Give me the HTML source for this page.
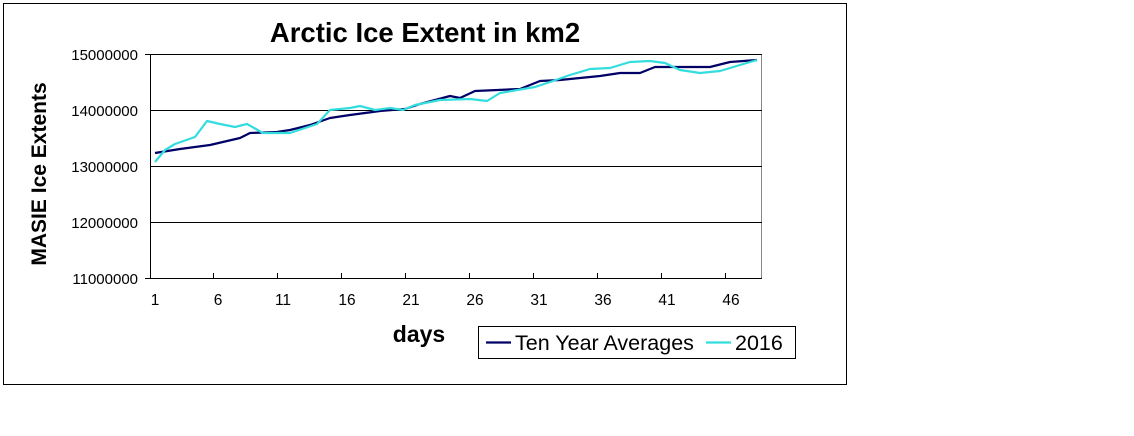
<!DOCTYPE html>
<html><head><meta charset="utf-8"><style>
body{margin:0;background:#fff;}
svg{display:block;font-family:"Liberation Sans",Arial,sans-serif;}
</style></head><body>
<svg width="1134" height="436" viewBox="0 0 1134 436" xmlns="http://www.w3.org/2000/svg">
<rect x="0" y="0" width="1134" height="436" fill="#fff"/>
<rect x="3.5" y="3.5" width="843" height="381" fill="none" stroke="#000" stroke-width="1"/>
<text x="425" y="42" font-size="27.5" font-weight="bold" text-anchor="middle">Arctic Ice Extent in km2</text>
<rect x="150.5" y="54.5" width="611" height="224" fill="none" stroke="#888" stroke-width="1"/>
<g stroke="#000" stroke-width="1">
<line x1="150" y1="54.5" x2="762" y2="54.5"/>
<line x1="150" y1="110.5" x2="762" y2="110.5"/>
<line x1="150" y1="166.5" x2="762" y2="166.5"/>
<line x1="150" y1="222.5" x2="762" y2="222.5"/>
<line x1="150" y1="278.5" x2="762" y2="278.5"/>
<line x1="150.5" y1="54" x2="150.5" y2="279"/>
<line x1="145" y1="54.5" x2="150" y2="54.5"/>
<line x1="145" y1="278.5" x2="150" y2="278.5"/>
<line x1="213.5" y1="273" x2="213.5" y2="278"/>
<line x1="277.5" y1="273" x2="277.5" y2="278"/>
<line x1="341.5" y1="273" x2="341.5" y2="278"/>
<line x1="405.5" y1="273" x2="405.5" y2="278"/>
<line x1="469.5" y1="273" x2="469.5" y2="278"/>
<line x1="533.5" y1="273" x2="533.5" y2="278"/>
<line x1="597.5" y1="273" x2="597.5" y2="278"/>
<line x1="661.5" y1="273" x2="661.5" y2="278"/>
<line x1="725.5" y1="273" x2="725.5" y2="278"/>
</g>
<g font-size="15" text-anchor="end">
<text x="138" y="60">15000000</text>
<text x="138" y="116">14000000</text>
<text x="138" y="172">13000000</text>
<text x="138" y="228">12000000</text>
<text x="138" y="284">11000000</text>
</g>
<g font-size="15.5" text-anchor="middle">
<text x="155" y="305">1</text>
<text x="218" y="305">6</text>
<text x="283" y="305">11</text>
<text x="347" y="305">16</text>
<text x="411" y="305">21</text>
<text x="475" y="305">26</text>
<text x="539" y="305">31</text>
<text x="603" y="305">36</text>
<text x="667" y="305">41</text>
<text x="731" y="305">46</text>
</g>
<text transform="translate(46,174) rotate(-90)" font-size="21" font-weight="bold" text-anchor="middle">MASIE Ice Extents</text>
<text x="419" y="342" font-size="23" font-weight="bold" text-anchor="middle">days</text>
<polyline fill="none" stroke="#000066" stroke-width="2.2" stroke-linejoin="round" points="155,153 180,149 210,145 240,138 250,133 277,132 290,130 310,125 330,118 350,115 380,111 405,109 420,104 450,96 460,98 475,91 520,89 540,81 560,80 600,76 620,73 640,73 655,67 680,67 700,67 710,67 730,62 757,60"/>
<polyline fill="none" stroke="#33dddd" stroke-width="2.2" stroke-linejoin="round" points="155,162 165,150 175,144 195,137 207,121 220,124 235,127 247,124 263,133 290,133 305,128 317,124 330,110 350,108 360,106 375,110 390,108 403,110 415,105 440,100 470,99 487,101 500,93 535,87 550,82 570,75 590,69 610,68 630,62 650,61 665,63 680,70 700,73 720,71 740,65 757,60"/>
<rect x="478.5" y="326.5" width="317" height="32" fill="#fff" stroke="#000" stroke-width="1"/>
<line x1="486" y1="342.5" x2="511" y2="342.5" stroke="#000066" stroke-width="2.2"/>
<text x="515" y="350" font-size="21.5">Ten Year Averages</text>
<line x1="706" y1="342.5" x2="731" y2="342.5" stroke="#33dddd" stroke-width="2.2"/>
<text x="735" y="350" font-size="21.5">2016</text>
</svg>
</body></html>
